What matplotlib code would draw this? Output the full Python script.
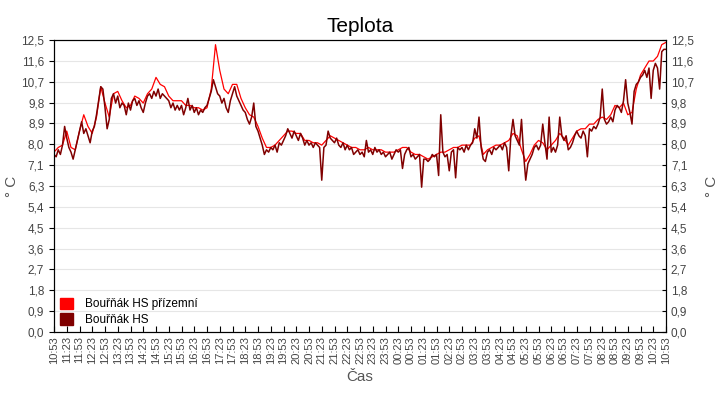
import numpy as np
import matplotlib
matplotlib.use('Agg')
import matplotlib.pyplot as plt
from matplotlib.ticker import FixedLocator, FuncFormatter
from matplotlib.patches import Patch

plt.rcParams['font.family'] = ['Liberation Sans', 'DejaVu Sans']

# minuty od 10:53, tmavá řada po 5 min, světlá po 10 min
t_hs = np.arange(0, 1441, 5)
t_priz = np.arange(0, 1441, 10)

hs = [
    7.6, 7.5, 7.8, 7.6, 8.0, 8.8, 8.3, 7.9, 7.7, 7.4, 7.8, 8.2,
    8.6, 9.0, 8.5, 8.7, 8.4, 8.1, 8.6, 8.8, 9.3, 9.9, 10.5, 10.4,
    9.6, 8.7, 9.1, 10.0, 10.2, 9.8, 10.1, 9.6, 9.8, 9.7, 9.3, 9.8,
    9.5, 9.9, 10.0, 9.7, 9.9, 9.6, 9.4, 9.8, 10.1, 10.2, 10.0, 10.3,
    10.1, 10.4, 10.0, 10.2, 10.1, 10.0, 9.9, 9.6, 9.8, 9.5, 9.7, 9.5,
    9.7, 9.3, 9.6, 10.0, 9.5, 9.7, 9.4, 9.6, 9.3, 9.5, 9.4, 9.6,
    9.7, 10.0, 10.3, 10.8, 10.5, 10.2, 10.1, 9.8, 10.0, 9.6, 9.4, 9.9,
    10.2, 10.5, 10.1, 9.9, 9.7, 9.5, 9.4, 9.1, 8.9, 9.2, 9.8, 8.8,
    8.6, 8.3, 8.0, 7.6, 7.8, 7.7, 7.9, 7.8, 8.0, 7.7, 8.1, 8.0,
    8.2, 8.4, 8.7, 8.5, 8.3, 8.6, 8.4, 8.2, 8.5, 8.3, 8.0, 8.2,
    8.0, 8.1, 7.9, 8.1, 8.0, 7.9, 6.5, 7.9, 8.0, 8.6, 8.3, 8.2,
    8.1, 8.3, 8.0, 7.9, 8.1, 7.8, 8.0, 7.8, 7.9, 7.6, 7.7, 7.8,
    7.6, 7.7, 7.5, 8.2, 7.7, 7.8, 7.6, 7.9, 7.7, 7.8, 7.6, 7.7,
    7.5, 7.6, 7.7, 7.4, 7.6, 7.8, 7.7, 7.8, 7.0, 7.6, 7.8, 7.9,
    7.5, 7.6, 7.4, 7.5, 7.6, 6.2, 7.4, 7.4, 7.3, 7.4, 7.6, 7.5,
    7.6, 6.7, 9.3, 7.7, 7.5, 7.6, 6.9, 7.7, 7.8, 6.6, 7.9, 7.8,
    7.9, 7.7, 8.0, 7.8, 8.0, 8.1, 8.7, 8.3, 9.2, 7.9, 7.4, 7.3,
    7.7, 7.8, 7.6, 7.9, 7.8, 7.9, 8.0, 7.8, 8.1, 7.9, 6.9, 8.4,
    9.1, 8.4, 8.2, 8.0, 9.1, 7.6, 6.5, 7.2, 7.4, 7.6, 7.9, 8.0,
    7.8, 8.0, 8.9, 8.1, 7.4, 9.2, 7.7, 7.9, 7.7, 8.0, 9.2, 8.4,
    8.2, 8.4, 7.8, 7.9, 8.1, 8.4, 8.6, 8.4, 8.3, 8.6, 8.4, 7.5,
    8.7, 8.6, 8.8, 8.7, 8.9, 9.2, 10.4, 9.1, 8.9, 9.0, 9.2, 9.0,
    9.5, 9.7, 9.6, 9.4, 9.9, 10.8, 9.8, 9.4, 8.9, 10.3, 10.6, 10.7,
    10.9, 11.0, 11.2, 10.9, 11.3, 10.0, 11.2, 11.5, 11.3, 10.4, 12.0, 12.1,
    12.1,
]

priz = [
    7.7, 7.9, 8.0, 8.6, 7.9, 7.8,
    8.6, 9.3, 8.8, 8.5, 9.2, 10.5,
    9.8, 9.2, 10.2, 10.3, 9.9, 9.6,
    9.7, 10.1, 10.0, 9.8, 10.2, 10.4,
    10.9, 10.6, 10.5, 10.1, 9.9, 9.9,
    9.9, 9.7, 9.7, 9.6, 9.6, 9.5,
    9.6, 10.4, 12.3, 11.2, 10.4, 10.2,
    10.6, 10.6, 10.0, 9.6, 9.3, 9.2,
    8.8, 8.3, 7.9, 7.9, 8.0, 8.2,
    8.4, 8.6, 8.6, 8.5, 8.5, 8.2,
    8.2, 8.1, 8.1, 8.0, 8.2, 8.4,
    8.3, 8.2, 8.1, 8.0, 7.9, 7.9,
    7.8, 7.8, 7.9, 7.8, 7.8, 7.8,
    7.7, 7.7, 7.7, 7.8, 7.9, 7.9,
    7.7, 7.6, 7.6, 7.5, 7.4, 7.5,
    7.6, 7.7, 7.7, 7.8, 7.9, 7.9,
    8.0, 8.0, 8.0, 8.3, 8.4, 7.6,
    7.8, 7.9, 8.0, 8.0, 8.1, 8.2,
    8.5, 8.4, 7.8, 7.3, 7.6, 8.0,
    8.2, 8.1, 7.8, 8.0, 8.2, 8.5,
    8.3, 8.0, 8.3, 8.6, 8.7, 8.7,
    8.9, 8.9, 9.1, 9.2, 9.1, 9.3,
    9.7, 9.6, 9.8, 9.3, 9.4, 10.4,
    11.0, 11.3, 11.6, 11.6, 11.8, 12.3,
    12.4,
]

tick_pos = np.arange(0, 1441, 30)
tick_labels = ['%02d:%02d' % (((653 + m) // 60) % 24, (653 + m) % 60) for m in tick_pos]
y_ticks = np.linspace(0, 12.5, 15)


def cz(v, p=None):
    # zaokrouhlení nahoru na půlce, desetinná čárka
    s = '%.1f' % (np.floor(v * 10 + 0.5 + 1e-9) / 10)
    return s.replace('.', ',')


fig = plt.figure(figsize=(7.2, 4.0), dpi=100)
ax = fig.add_axes([0.075, 0.17, 0.85, 0.73])

ax.plot(t_priz, priz, color='#ff0000', lw=0.9, zorder=3)
ax.plot(t_hs, hs, color='#800000', lw=1.1, zorder=4)

ax.set_xlim(0, 1440)
ax.set_ylim(0, 12.5)
ax.set_xticks(tick_pos)
ax.set_xticklabels(tick_labels, rotation=90, fontsize=8, color='#444444')
ax.yaxis.set_major_locator(FixedLocator(y_ticks))
ax.yaxis.set_major_formatter(FuncFormatter(cz))
ax.tick_params(axis='y', labelsize=8.5, labelcolor='#444444', left=False, right=False)
ax.tick_params(axis='x', direction='in', length=4, pad=3, top=False)
ax.grid(axis='y', color='#e6e6e6', lw=0.8)
ax.set_axisbelow(True)

ax2 = ax.twinx()
ax2.set_ylim(0, 12.5)
ax2.yaxis.set_major_locator(FixedLocator(y_ticks))
ax2.yaxis.set_major_formatter(FuncFormatter(cz))
ax2.tick_params(axis='y', labelsize=8.5, labelcolor='#444444', direction='in', length=3)

ax.set_title('Teplota', fontsize=15, pad=6)
ax.set_xlabel('Čas', fontsize=11, color='#555555', labelpad=4)
ax.set_ylabel('° C', fontsize=11, color='#555555')
ax2.set_ylabel('° C', fontsize=11, color='#555555')
ax.yaxis.set_label_coords(-0.058, 0.5)
ax2.yaxis.set_label_coords(1.063, 0.5)

handles = [Patch(color='#ff0000'), Patch(color='#800000')]
labels = ['Bouřňák HS přízemní', 'Bouřňák HS']
ax.legend(handles, labels, loc='lower left', frameon=False, fontsize=8.5,
          handlelength=1.1, handleheight=1.1, handletextpad=1.0,
          borderaxespad=0.3, borderpad=0.2, labelspacing=0.25)

fig.savefig('out.png', dpi=100)
